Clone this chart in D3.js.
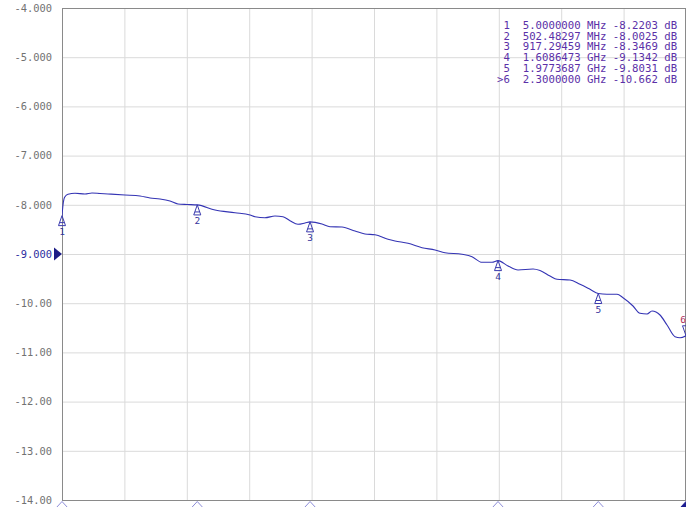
<!DOCTYPE html>
<html>
<head>
<meta charset="utf-8">
<script src="https://cdnjs.cloudflare.com/ajax/libs/d3/7.8.5/d3.min.js"></script>
<style>
  body { margin: 0; background: #fff; }
  svg { display: block; }
  .grid line { stroke: #dadada; }
  .grid path { display: none; }
  .labels path, .labels line { display: none; }
  .labels text { font-family: 'DejaVu Sans Mono', monospace; font-size: 10.4px; fill: #727272; }
  .legend text { font-family: 'DejaVu Sans Mono', monospace; font-size: 10.7px; fill: #5b30a8; white-space: pre; }
</style>
</head>
<body>
<div class="visualization"></div>
<script>
// trace: frequency in MHz, level in dB
const freqMHz = [5, 8.7, 12.4, 16.0, 27.1, 52.8, 89.6, 115.3, 144.8, 174.2, 236.7, 291.9, 328.7, 365.4, 402.2,
  431.6, 464.8, 502.48, 567.7, 641.3, 696.5, 714.9, 751.6, 788.4, 817.8, 843.6, 873.0, 898.8, 917.29,
  961.3, 990.7, 1034.8, 1082.7, 1119.4, 1156.2, 1204.0, 1229.8, 1277.6, 1329.1, 1376.9, 1413.7, 1476.2,
  1513.0, 1549.8, 1586.5, 1608.65, 1645.4, 1682.2, 1737.3, 1763.1, 1799.9, 1825.6, 1873.4, 1910.2,
  1947.0, 1977.37, 2009.5, 2046.3, 2068.4, 2105.1, 2130.9, 2156.6, 2175.0, 2204.4, 2230.2, 2259.6,
  2278.0, 2300]
const traceDb = [-8.2203, -8.004, -7.882, -7.835, -7.787, -7.766, -7.780, -7.760, -7.770, -7.780, -7.801,
  -7.821, -7.862, -7.882, -7.923, -7.984, -7.994, -8.0025, -8.106, -8.161, -8.207, -8.242, -8.262,
  -8.228, -8.242, -8.323, -8.396, -8.370, -8.3469, -8.390, -8.445, -8.451, -8.533, -8.593, -8.608,
  -8.701, -8.736, -8.783, -8.872, -8.919, -8.974, -9.006, -9.055, -9.169, -9.169, -9.1342, -9.244,
  -9.325, -9.305, -9.335, -9.447, -9.514, -9.528, -9.616, -9.717, -9.8031, -9.819, -9.819, -9.888,
  -10.057, -10.205, -10.220, -10.159, -10.240, -10.443, -10.681, -10.701, -10.662]

const markerNames = ['1', '2', '3', '4', '5', '6']
const markerFreqMHz = [5, 502.48297, 917.29459, 1608.6473, 1977.3687, 2300]
const markerDb = [-8.2203, -8.0025, -8.3469, -9.1342, -9.8031, -10.662]
const markerFreqText = ['5.0000000 MHz', '502.48297 MHz', '917.29459 MHz', '1.6086473 GHz', '1.9773687 GHz', '2.3000000 GHz']
const markerDbText = ['-8.2203', '-8.0025', '-8.3469', '-9.1342', '-9.8031', '-10.662']
const activeMarker = 5

const yTicks = [-4, -5, -6, -7, -8, -9, -10, -11, -12, -13, -14]
const refLevel = -9
const startMHz = 5
const stopMHz = 2300

const WIDTH = 686
const HEIGHT = 507
var margin = {top: 8, left: 62}
var plotW = 624
var plotH = 492

var x = d3.scaleLinear().domain([startMHz, stopMHz]).range([margin.left, margin.left + plotW])
var y = d3.scaleLinear().domain([-14, -4]).range([margin.top + plotH, margin.top])

// 10 divisions across the sweep
var xDivs = d3.range(11).map(i => startMHz + i * (stopMHz - startMHz) / 10)

const svg = d3.select('.visualization')
  .append('svg')
  .attr('width', WIDTH)
  .attr('height', HEIGHT)

svg.append('defs').append('clipPath').attr('id', 'plot')
  .append('rect')
  .attr('x', margin.left).attr('y', margin.top)
  .attr('width', plotW).attr('height', plotH)

// gridlines
svg.append('g')
  .attr('class', 'grid')
  .attr('transform', 'translate(0,' + (margin.top + plotH) + ')')
  .call(d3.axisBottom(x).tickValues(xDivs).tickSize(-plotH).tickFormat(''))

svg.append('g')
  .attr('class', 'grid')
  .attr('transform', 'translate(' + margin.left + ',0)')
  .call(d3.axisLeft(y).tickValues(yTicks).tickSize(-plotW).tickFormat(''))

// frame
svg.append('rect')
  .attr('x', margin.left + 0.5).attr('y', margin.top + 0.5)
  .attr('width', plotW - 1).attr('height', plotH)
  .attr('fill', 'none')
  .attr('stroke', '#8a8a8a')

// y labels
svg.append('g')
  .attr('class', 'labels')
  .attr('transform', 'translate(' + margin.left + ',0)')
  .call(d3.axisLeft(y).tickValues(yTicks).tickSize(0).tickPadding(10)
    .tickFormat(d => Math.abs(d) < 10 ? d.toFixed(3) : d.toFixed(2)))
  .selectAll('text')
  .style('fill', d => d === refLevel ? '#2c2ca0' : null)

// reference level pointer
var ry = y(refLevel)
svg.append('path')
  .attr('d', 'M' + (margin.left - 8) + ',' + (ry - 6.5) + 'L' + margin.left + ',' + ry + 'L' + (margin.left - 8) + ',' + (ry + 6.5) + 'Z')
  .attr('fill', '#1c1c86')

// trace
var line = d3.line()
  .x((d, i) => x(freqMHz[i]))
  .y(d => y(d))
  .curve(d3.curveMonotoneX)

svg.append('path')
  .datum(traceDb)
  .attr('clip-path', 'url(#plot)')
  .attr('d', line)
  .attr('fill', 'none')
  .attr('stroke', '#3434b4')
  .attr('stroke-width', 1.1)

// markers on the trace
var mk = svg.append('g').selectAll('g')
  .data(markerNames)
  .enter()
  .append('g')
  .attr('transform', (d, i) => 'translate(' + x(markerFreqMHz[i]) + ',' + y(markerDb[i]) + ')')

mk.append('path')
  .attr('d', (d, i) => i === activeMarker ? 'M0,0L-3.5,-10L3.5,-10Z' : 'M0,0L-3.5,10L3.5,10Z M-2.3,7H2.3')
  .attr('fill', 'none')
  .attr('stroke', '#3a3aae')

mk.append('text')
  .attr('x', (d, i) => i === activeMarker ? 0 : 0)
  .attr('y', (d, i) => i === activeMarker ? -15 : 17)
  .attr('text-anchor', (d, i) => i === activeMarker ? 'end' : 'middle')
  .attr('dominant-baseline', 'middle')
  .style('font-family', 'DejaVu Sans Mono, monospace')
  .style('font-size', '9.5px')
  .style('fill', (d, i) => i === activeMarker ? '#b0305a' : '#33339c')
  .text(d => d)

// markers under the x axis
svg.append('g').selectAll('path')
  .data(markerNames)
  .enter()
  .append('path')
  .attr('transform', (d, i) => 'translate(' + x(markerFreqMHz[i]) + ',' + (margin.top + plotH + 1) + ')')
  .attr('d', 'M-6,7L0,0.5L6,7Z')
  .attr('fill', (d, i) => i === activeMarker ? '#1c1c90' : 'none')
  .attr('stroke', (d, i) => i === activeMarker ? '#1c1c90' : '#8c8cd8')

// marker table
var legend = svg.append('g').attr('class', 'legend')
legend.selectAll('text')
  .data(markerNames)
  .enter()
  .append('text')
  .attr('x', 497)
  .attr('y', (d, i) => 26 + i * 10.7)
  .attr('dominant-baseline', 'middle')
  .text((d, i) => (i === activeMarker ? '>' : ' ') + d + '  ' + markerFreqText[i] + ' ' + markerDbText[i] + ' dB')
</script>
</body>
</html>
